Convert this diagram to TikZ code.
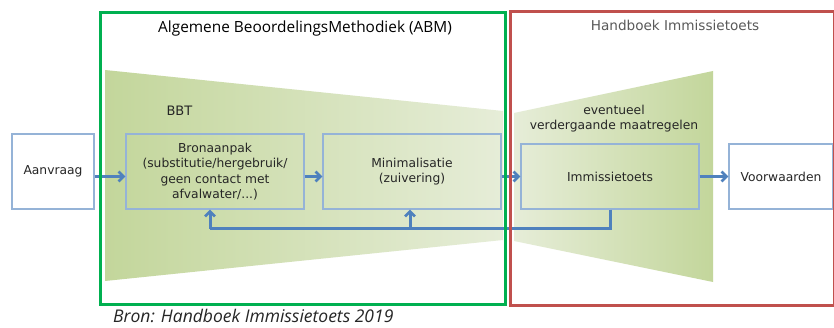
\documentclass[tikz,border=0pt]{standalone}
\usepackage{fontspec}
\setmainfont{DejaVu Sans}
\newfontfamily\titlefont{Open Sans}
\usetikzlibrary{arrows.meta}
\definecolor{frameG}{HTML}{00B050}
\definecolor{frameR}{HTML}{C0504D}
\definecolor{boxB}{HTML}{95B3D7}
\definecolor{arrB}{HTML}{4F81BD}
\definecolor{trapD}{HTML}{C3D69B}
\definecolor{trapL}{HTML}{E6EDD8}
\definecolor{greyT}{HTML}{595959}
\definecolor{txt}{HTML}{262626}
\tikzset{
  box/.style={draw=boxB, line width=1.2pt, inner sep=0pt, align=center,
    font=\fontsize{12.3}{15.5}\selectfont, text=txt},
  arr/.style={draw=arrB, line width=3pt, -{Straight Barb[length=5pt,width=10pt,line width=2.6pt]}},
  fbline/.style={draw=arrB, line width=3pt},
  frame/.style={line width=3pt},
  lbl/.style={font=\fontsize{12.3}{15}\selectfont, text=txt, align=center}
}
\begin{document}
\begin{tikzpicture}[x=1pt,y=-1pt]
\useasboundingbox[fill=white] (0,0) rectangle (834,328);
% trapezoids
\shade[left color=trapD, right color=trapL] (105,70) -- (503,111) -- (503,240) -- (105,281) -- cycle;
\shade[left color=trapL, right color=trapD] (514,113) -- (713,71) -- (713,282) -- (514,241) -- cycle;
% boxes
\node[box, minimum width=82pt, minimum height=75pt] (aanv) at (53,171.5) {Aanvraag};
\node[box, minimum width=178pt, minimum height=75pt] (bron) at (215,171.5) {Bronaanpak\\(substitutie/hergebruik/\\geen contact met\\afvalwater/...)};
\node[box, minimum width=178pt, minimum height=75pt] (minim) at (412,171.5) {Minimalisatie\\(zuivering)};
\node[box, minimum width=178pt, minimum height=65pt] (immis) at (610,176.5) {Immissietoets};
\node[box, minimum width=104pt, minimum height=65pt] (voorw) at (781,176.5) {Voorwaarden};
% labels
\node[lbl, font=\fontsize{13}{15}\selectfont, anchor=base west] (bbt) at (163,115.5) {BBT};
\node[lbl, anchor=base] (ev1) at (614,115) {eventueel};
\node[lbl, anchor=base] (ev2) at (614,130) {verdergaande maatregelen};
\node[anchor=base, font=\titlefont\fontsize{15.4}{18}\selectfont, text=black] (abm) at (305,33) {Algemene BeoordelingsMethodiek (ABM)};
\node[anchor=base, font=\fontsize{13.6}{16}\selectfont, text=greyT] (hit) at (675,31) {Handboek Immissietoets};
\node[anchor=base west, inner sep=0pt, font=\titlefont\itshape\fontsize{17.5}{20}\selectfont, text=txt] (bron2) at (113,322.5) {Bron: Handboek Immissietoets 2019};
% arrows
\coordinate (ay) at (0,176.5);
\draw[arr] (aanv.east |- ay) -- (bron.west |- ay);
\draw[arr] (bron.east |- ay) -- (minim.west |- ay);
\draw[arr] (minim.east |- ay) -- (immis.west |- ay);
\draw[arr] (immis.east |- ay) -- (voorw.west |- ay);
\coordinate (fbL) at (210,229);
\coordinate (fbM) at (410,229);
\draw[fbline, line join=miter] (immis.south) |- (fbL);
\draw[arr] (fbL) -- (fbL |- bron.south);
\draw[arr] (fbM) -- (fbM |- minim.south);
% frames
\draw[frame, draw=frameG] (100,13) rectangle (505,304);
\draw[frame, draw=frameR] (510,12) rectangle (834.5,305);
\end{tikzpicture}
\end{document}
